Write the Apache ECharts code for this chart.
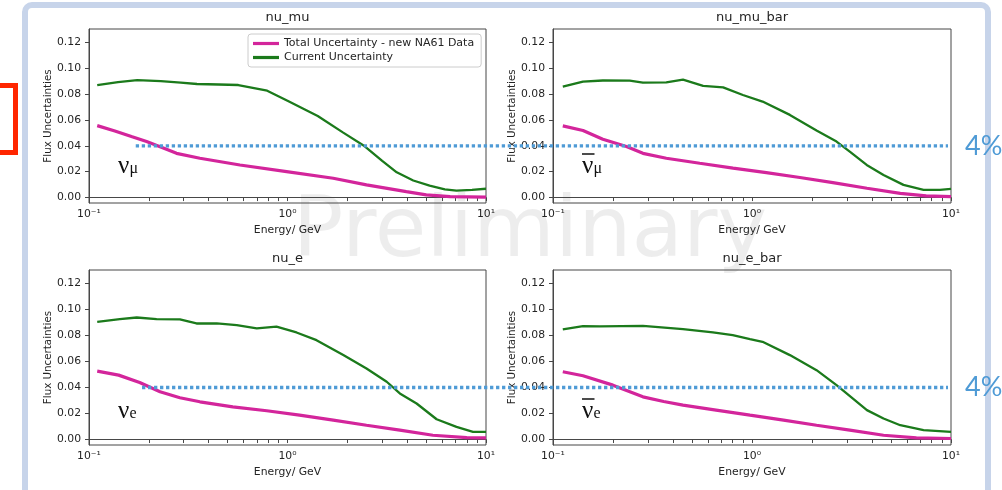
<!DOCTYPE html>
<html>
<head>
<meta charset="utf-8">
<script src="https://cdn.jsdelivr.net/npm/echarts@6/dist/echarts.min.js"></script>
<style>
  html, body { margin: 0; padding: 0; background: #fff; }
  #main { width: 1002px; height: 490px; }
</style>
</head>
<body>
<div id="main"></div>
<script>
// ---- data ----
const panelTitles = ['nu_mu', 'nu_mu_bar', 'nu_e', 'nu_e_bar'];
const seriesNames = ['Total Uncertainty - new NA61 Data', 'Current Uncertainty'];
const yTicks = [0, 0.02, 0.04, 0.06, 0.08, 0.10, 0.12];
const xMajorTicks = [0.1, 1, 10];
const xMinorTicks = [0.2, 0.3, 0.4, 0.5, 0.6, 0.7, 0.8, 0.9, 2, 3, 4, 5, 6, 7, 8, 9];
const xTickLabels = ['10⁻¹', '10⁰', '10¹'];
const thresholdValue = 0.04;
const thresholdLabel = '4%';

// nu_mu
const numuNewE = [0.11, 0.135, 0.165, 0.195, 0.235, 0.276, 0.362, 0.576, 0.99, 1.70, 2.5, 3.97, 5.0, 6.6, 10];
const numuNew  = [0.0556, 0.0515, 0.0470, 0.0433, 0.0385, 0.0342, 0.0304, 0.0252, 0.0201, 0.0149, 0.0098, 0.0046, 0.0021, 0.0008, 0.0003];
const numuCurE = [0.11, 0.14, 0.175, 0.23, 0.29, 0.35, 0.45, 0.565, 0.79, 1.0, 1.42, 1.9, 2.45, 3.0, 3.55, 4.3, 5.2, 6.2, 7.1, 8.5, 10];
const numuCur  = [0.0870, 0.0893, 0.0908, 0.0900, 0.0888, 0.0878, 0.0874, 0.0870, 0.0826, 0.0748, 0.0630, 0.0504, 0.0396, 0.0284, 0.0195, 0.0132, 0.0093, 0.0063, 0.0054, 0.0060, 0.0068];

// nu_mu_bar
const numubarNewE = [0.112, 0.1415, 0.178, 0.234, 0.283, 0.371, 0.546, 0.803, 1.18, 1.74, 2.55, 3.78, 5.56, 7.5, 10];
const numubarNew  = [0.0554, 0.0518, 0.0451, 0.0394, 0.0342, 0.0304, 0.0265, 0.0227, 0.0193, 0.0155, 0.0116, 0.0072, 0.0033, 0.0013, 0.0008];
const numubarCurE = [0.112, 0.1415, 0.178, 0.243, 0.283, 0.371, 0.45, 0.568, 0.716, 0.90, 1.13, 1.55, 2.11, 2.66, 3.1, 3.77, 4.58, 5.77, 7.28, 8.8, 10];
const numubarCur  = [0.0858, 0.0896, 0.0905, 0.0904, 0.0888, 0.0891, 0.0912, 0.0863, 0.0852, 0.0793, 0.0742, 0.0639, 0.0518, 0.0433, 0.0355, 0.0252, 0.0175, 0.0098, 0.0059, 0.0059, 0.0067];

// nu_e
const nueNewE = [0.11, 0.141, 0.18, 0.228, 0.287, 0.362, 0.53, 0.786, 1.15, 1.70, 2.5, 3.68, 5.4, 8.0, 10];
const nueNew  = [0.0526, 0.0495, 0.0438, 0.0367, 0.0321, 0.0290, 0.0251, 0.0221, 0.0187, 0.0149, 0.0110, 0.0072, 0.0033, 0.0015, 0.0013];
const nueCurE = [0.11, 0.143, 0.174, 0.219, 0.287, 0.348, 0.44, 0.555, 0.70, 0.88, 1.11, 1.40, 1.91, 2.5, 3.16, 3.68, 4.47, 5.64, 7.1, 8.6, 10];
const nueCur  = [0.0905, 0.0926, 0.0938, 0.0926, 0.0923, 0.0892, 0.0892, 0.0879, 0.0854, 0.0867, 0.0823, 0.0764, 0.0649, 0.0546, 0.0444, 0.0354, 0.0277, 0.0156, 0.0097, 0.0059, 0.0059];

// nu_e_bar
const nuebarNewE = [0.112, 0.1415, 0.2, 0.283, 0.36, 0.45, 0.66, 0.977, 1.44, 2.11, 3.1, 4.58, 6.7, 10];
const nuebarNew  = [0.0521, 0.0490, 0.0418, 0.0328, 0.0292, 0.0264, 0.0226, 0.0187, 0.0149, 0.0110, 0.0072, 0.0033, 0.0013, 0.0008];
const nuebarCurE = [0.112, 0.1415, 0.172, 0.283, 0.45, 0.636, 0.80, 0.977, 1.13, 1.55, 2.11, 2.66, 3.78, 4.58, 5.56, 7.28, 10];
const nuebarCur  = [0.0846, 0.0872, 0.0869, 0.0874, 0.0849, 0.0823, 0.0803, 0.0772, 0.0751, 0.0649, 0.0533, 0.0418, 0.0226, 0.0162, 0.0110, 0.0072, 0.0059];

// ---- layout & style ----
const FONT = 'DejaVu Sans';
const TEXT = '#242424';
const SPINE = '#474747';
const MAGENTA = '#d3259b';
const GREEN = '#1b7a1b';
const NOTE_BLUE = '#4f9bd6';

const panels = [
  { newE: numuNewE, newV: numuNew, curE: numuCurE, curV: numuCur },
  { newE: numubarNewE, newV: numubarNew, curE: numubarCurE, curV: numubarCur },
  { newE: nueNewE, newV: nueNew, curE: nueCurE, curV: nueCur },
  { newE: nuebarNewE, newV: nuebarNew, curE: nuebarCurE, curV: nuebarCur }
];
const gridBoxes = [
  { left: 89,  top: 29,  width: 397, height: 174 },
  { left: 553, top: 29,  width: 398, height: 174 },
  { left: 89,  top: 270, width: 397, height: 175 },
  { left: 553, top: 270, width: 398, height: 175 }
];

const pairs = (xs, ys) => xs.map((x, k) => [x, ys[k]]);
const small = { fontFamily: FONT, fontSize: 10.8, color: TEXT };

const option = {
  animation: false,
  backgroundColor: '#ffffff',
  textStyle: { fontFamily: FONT },
  grid: [], xAxis: [], yAxis: [], series: [],
  legend: {
    data: [
      { name: seriesNames[0], icon: 'rect', itemStyle: { color: MAGENTA } },
      { name: seriesNames[1], icon: 'rect', itemStyle: { color: GREEN } }
    ],
    orient: 'vertical',
    left: 248, top: 34,
    itemWidth: 26, itemHeight: 3.2, itemGap: 3,
    padding: [4, 7, 4, 5],
    backgroundColor: 'rgba(255,255,255,0.85)',
    borderColor: '#cccccc', borderWidth: 1, borderRadius: 3,
    textStyle: { ...small, fontSize: 11 },
    selectedMode: false
  },
  graphic: []
};

panels.forEach((p, i) => {
  const g = gridBoxes[i];
  option.grid.push({
    left: g.left, top: g.top, width: g.width, height: g.height,
    show: true, borderColor: SPINE, borderWidth: 1, backgroundColor: 'transparent'
  });
  // log energy axis: every tick (decades and 2..9 sub-ticks), decade labels
  option.xAxis.push({
    gridIndex: i, type: 'log', logBase: 10, min: 0.1, max: 10, position: 'bottom',
    axisLine: { show: true, lineStyle: { color: SPINE, width: 1 } },
    axisTick: { show: true, length: 3.5, customValues: xMajorTicks.concat(xMinorTicks),
                lineStyle: { color: SPINE, width: 1 } },
    axisLabel: {
      customValues: xMajorTicks, margin: 6, ...small,
      formatter: v => xTickLabels[Math.round(Math.log10(v)) + 1]
    },
    splitLine: { show: false }, minorTick: { show: false },
    name: 'Energy/ GeV', nameLocation: 'middle', nameGap: 22, nameTextStyle: small
  });
  option.yAxis.push({
    gridIndex: i, type: 'value', min: -0.0042, max: 0.1303,
    axisLine: { show: true, lineStyle: { color: SPINE, width: 1 } },
    axisTick: { show: true, length: 4, customValues: yTicks, lineStyle: { color: SPINE, width: 1 } },
    axisLabel: { customValues: yTicks, margin: 8, ...small, formatter: v => v.toFixed(2) },
    splitLine: { show: false },
    name: 'Flux Uncertainties', nameLocation: 'middle', nameGap: 36, nameRotate: 90,
    nameTextStyle: { ...small, fontSize: 10.3 }
  });
  option.series.push({
    type: 'line', name: seriesNames[0], xAxisIndex: i, yAxisIndex: i,
    data: pairs(p.newE, p.newV), symbol: 'none', showSymbol: false,
    lineStyle: { color: MAGENTA, width: 3.2 }, itemStyle: { color: MAGENTA }, z: 3
  });
  option.series.push({
    type: 'line', name: seriesNames[1], xAxisIndex: i, yAxisIndex: i,
    data: pairs(p.curE, p.curV), symbol: 'none', showSymbol: false,
    lineStyle: { color: GREEN, width: 2.3 }, itemStyle: { color: GREEN }, z: 4
  });
  // panel title
  option.graphic.push({
    type: 'text', x: g.left + g.width / 2, y: g.top - 11, silent: true,
    style: { text: panelTitles[i], align: 'center', verticalAlign: 'middle',
             font: '13px "DejaVu Sans"', fill: TEXT }
  });
});

// slide decorations: frame, bracket, watermark
option.graphic.push(
  { type: 'rect', silent: true, z: -5,
    shape: { x: 25, y: 5, width: 963, height: 540, r: 7 },
    style: { fill: 'none', stroke: '#c7d4ea', lineWidth: 6 } },
  { type: 'polyline', silent: true,
    shape: { points: [[-3, 85.5], [15.5, 85.5], [15.5, 152.5], [-3, 152.5]] },
    style: { fill: 'none', stroke: '#ff2600', lineWidth: 5 } },
  { type: 'text', silent: true, z: -4, x: 530, y: 234,
    style: { text: 'Preliminary', align: 'center', verticalAlign: 'middle',
             font: '84px "DejaVu Sans"', fill: 'rgba(0,0,0,0.07)' } }
);

// flavour symbols
function flavour(x, y, sub, bar) {
  const items = [
    { type: 'text', silent: true, z: 10, x: x, y: y,
      style: { text: 'ν', align: 'left', verticalAlign: 'middle', font: '25px "Liberation Serif"', fill: '#111' } },
    { type: 'text', silent: true, z: 10, x: x + 11.5, y: y + 3,
      style: { text: sub, align: 'left', verticalAlign: 'middle', font: '16px "Liberation Serif"', fill: '#111' } }
  ];
  if (bar) {
    items.push({ type: 'line', silent: true, z: 10,
      shape: { x1: x, y1: y - 12, x2: x + 12.5, y2: y - 12 },
      style: { stroke: '#111', lineWidth: 1.5 } });
  }
  return items;
}
option.graphic.push(
  ...flavour(118, 166, 'μ', false),
  ...flavour(582, 166, 'μ', true),
  ...flavour(118, 411, 'e', false),
  ...flavour(582, 411, 'e', true)
);

const chart = echarts.init(document.getElementById('main'));
chart.setOption(option);

// 4% guide lines spanning each row of panels
function guide(leftAxis, leftGridX, rightAxis, rightGridX, yAxisIdx) {
  const x1 = chart.convertToPixel({ xAxisIndex: leftAxis }, leftGridX);
  const x2 = chart.convertToPixel({ xAxisIndex: rightAxis }, rightGridX);
  const y = chart.convertToPixel({ yAxisIndex: yAxisIdx }, thresholdValue);
  return [
    { type: 'line', silent: true, z: 20,
      shape: { x1: x1, y1: y, x2: x2, y2: y },
      style: { stroke: NOTE_BLUE, lineWidth: 3.3, lineDash: [3.3, 2.7] } },
    { type: 'text', silent: true, z: 20, x: x2 + 17, y: y,
      style: { text: thresholdLabel, align: 'left', verticalAlign: 'middle',
               font: '27px Lato', fill: NOTE_BLUE } }
  ];
}
const extra = [
  ...guide(0, 0.172, 1, 9.66, 0),
  ...guide(2, 0.185, 3, 9.66, 2)
];
chart.setOption({ graphic: option.graphic.concat(extra) });
</script>
</body>
</html>
